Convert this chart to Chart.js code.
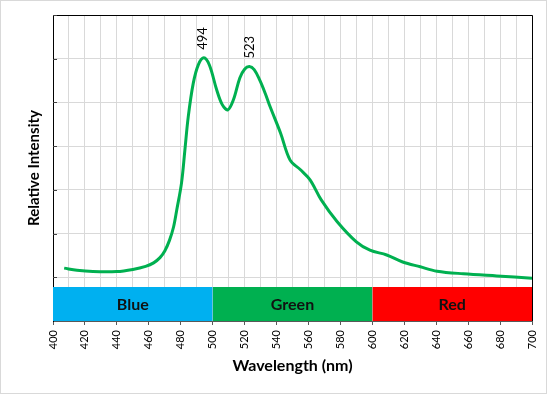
<!DOCTYPE html>
<html>
<head>
<meta charset="utf-8">
<script src="https://cdn.jsdelivr.net/npm/chart.js@4"></script>
<style>
  html, body { margin: 0; padding: 0; background: #fff; }
  #marco { width: 547px; height: 394px; box-sizing: border-box; border: 1px solid #d9d9d9; }
</style>
</head>
<body>
<div id="marco"><canvas id="espectro"></canvas></div>
<script>
// Espectro de emisión
const longitudes = [407, 415, 425, 440, 450, 458, 463, 467, 470, 473, 475.5, 477.5, 480.5, 482.6, 484.7, 487.8, 491, 494.5, 498, 502.5, 506, 509.5, 513, 517, 520, 523, 526, 529.5, 533, 536, 542.5, 548.5, 555, 561, 568, 578, 590, 598.5, 609, 619, 630, 640.5, 657, 678, 700];
const intensidades = [1.21, 1.16, 1.13, 1.13, 1.18, 1.25, 1.33, 1.45, 1.6, 1.85, 2.15, 2.54, 3.16, 3.91, 4.67, 5.43, 5.86, 6.02, 5.85, 5.29, 4.95, 4.83, 5.06, 5.56, 5.76, 5.82, 5.75, 5.51, 5.2, 4.9, 4.3, 3.68, 3.46, 3.23, 2.77, 2.27, 1.81, 1.62, 1.51, 1.35, 1.24, 1.14, 1.08, 1.03, 0.98];

// Picos marcados
const picosLongitud = [494, 523];
const picosIntensidad = [6.02, 5.82];

// Franjas de color bajo la curva
const bordesFranjas = [400, 500, 600, 700];
const nombresFranjas = ['Blue', 'Green', 'Red'];
const alturaFranja = 0.78;

const coloresFranjas = ['#00B0F0', '#00B050', '#FF0000'];
const fuente = 'Lato, "Liberation Sans", sans-serif';

const datasets = [{
    data: longitudes.map((x, i) => ({ x: x, y: intensidades[i] })),
    borderColor: '#00B050',
    borderWidth: 3,
    pointRadius: 0,
    tension: 0.35,
    fill: false,
}];

nombresFranjas.forEach((nombre, i) => {
    datasets.push({
        label: nombre,
        data: [{ x: bordesFranjas[i], y: alturaFranja }, { x: bordesFranjas[i + 1], y: alturaFranja }],
        borderWidth: 0,
        borderColor: 'rgba(0,0,0,0)',
        backgroundColor: coloresFranjas[i],
        pointRadius: 0,
        fill: 'origin',
    });
});

// Marco, marcas del eje y textos sobre el gráfico
const extras = {
    id: 'extras',
    beforeDatasetsDraw(chart) {
        const { ctx, chartArea: a } = chart;
        ctx.save();
        ctx.strokeStyle = '#000';
        ctx.lineWidth = 1;
        ctx.beginPath();
        ctx.moveTo(a.left, a.top + 0.5);
        ctx.lineTo(a.right + 0.5, a.top + 0.5);
        ctx.lineTo(a.right + 0.5, a.bottom);
        ctx.stroke();
        ctx.restore();
    },
    afterDatasetsDraw(chart) {
        const { ctx, chartArea: a, scales } = chart;
        const x = scales.x, y = scales.y;
        ctx.save();

        // marcas hacia adentro en el eje y
        ctx.strokeStyle = '#404040';
        ctx.lineWidth = 1;
        y.ticks.forEach(t => {
            if (t.value <= 0) return;
            const py = Math.round(y.getPixelForValue(t.value)) + 0.5;
            ctx.beginPath();
            ctx.moveTo(a.left, py);
            ctx.lineTo(a.left + 4, py);
            ctx.stroke();
        });

        // nombres de las franjas
        ctx.fillStyle = '#111';
        ctx.font = 'bold 16px ' + fuente;
        ctx.textAlign = 'center';
        ctx.textBaseline = 'middle';
        nombresFranjas.forEach((nombre, i) => {
            const cx = (x.getPixelForValue(bordesFranjas[i]) + x.getPixelForValue(bordesFranjas[i + 1])) / 2;
            const cy = (y.getPixelForValue(0) + y.getPixelForValue(alturaFranja)) / 2;
            ctx.fillText(nombre, cx, cy + 1);
        });

        // etiquetas de los picos
        ctx.font = '13px ' + fuente;
        ctx.fillStyle = '#000';
        ctx.textAlign = 'left';
        ctx.textBaseline = 'middle';
        picosLongitud.forEach((l, i) => {
            const px = x.getPixelForValue(l);
            const py = y.getPixelForValue(picosIntensidad[i]);
            ctx.save();
            ctx.translate(px, py - 8);
            ctx.rotate(-Math.PI / 2);
            ctx.fillText(String(l), 0, 0);
            ctx.restore();
        });
        ctx.restore();
    }
};

new Chart(document.getElementById('espectro'), {
    type: 'line',
    data: { datasets: datasets },
    options: {
        responsive: true,
        maintainAspectRatio: false,
        animation: false,
        layout: { padding: { top: 14, right: 14, left: 0, bottom: 0 } },
        plugins: { legend: { display: false }, tooltip: { enabled: false } },
        scales: {
            x: {
                type: 'linear',
                min: 400,
                max: 700,
                afterFit: s => { s.height = 72; s.paddingLeft = 0; s.paddingRight = 0; },
                ticks: {
                    stepSize: 10,
                    autoSkip: false,
                    minRotation: 90,
                    maxRotation: 90,
                    padding: 5,
                    color: '#000',
                    font: { family: fuente, size: 11 },
                    callback: v => (v % 20 === 0 ? String(v) : ''),
                },
                grid: {
                    color: '#d9d9d9',
                    tickLength: 4,
                    tickColor: c => (c.tick && c.tick.value % 20 === 0 ? '#595959' : 'rgba(0,0,0,0)'),
                },
                border: { display: true, color: '#595959' },
                title: {
                    display: true,
                    text: 'Wavelength (nm)',
                    color: '#000',
                    font: { family: fuente, size: 16, weight: 'bold' },
                    padding: { top: 0, bottom: 18 },
                },
            },
            y: {
                min: 0,
                max: 7,
                afterFit: s => { s.width = 52; },
                ticks: { stepSize: 1, display: false },
                grid: { color: '#d9d9d9', drawTicks: false },
                border: { display: true, color: '#000' },
                title: {
                    display: true,
                    text: 'Relative Intensity',
                    color: '#000',
                    font: { family: fuente, size: 15, weight: 'bold' },
                    padding: { top: 24, bottom: 0 },
                },
            },
        },
    },
    plugins: [extras],
});
</script>
</body>
</html>
